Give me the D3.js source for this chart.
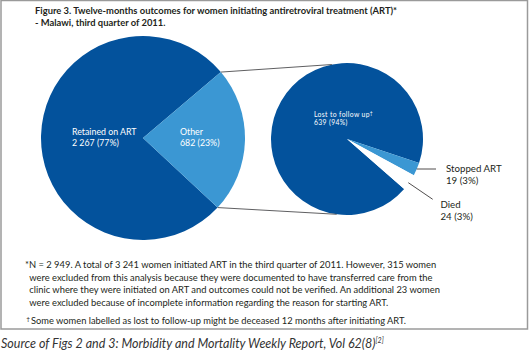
<!DOCTYPE html>
<html>
<head>
<meta charset="utf-8">
<script src="https://cdn.jsdelivr.net/npm/d3@7"></script>
<style>
body { margin: 0; background: #fff; }
svg { display: block; }
text { font-family: Lato, "Open Sans", sans-serif; }
</style>
</head>
<body>
<script>
// outcomes, all women (left pie)
var outerCats = ["Retained on ART", "Other"];
var outerVals = [2267, 682];
var outerPct = ["77%", "23%"];
// breakdown of "Other" (right pie)
var innerCats = ["Lost to follow up", "Stopped ART", "Died"];
var innerVals = [639, 19, 24];
var innerPct = ["94%", "3%", "3%"];

var titleLines = [
  "Figure 3. Twelve-months outcomes for women initiating antiretroviral treatment (ART)*",
  "- Malawi, third quarter of 2011."
];
var noteLines = [
  "*N = 2 949. A total of 3 241 women initiated ART in the third quarter of 2011. However, 315 women",
  "were excluded from this analysis because they were documented to have transferred care from the",
  "clinic where they were initiated on ART and outcomes could not be verified. An additional 23 women",
  "were excluded because of incomplete information regarding the reason for starting ART."
];
var daggerNote = "Some women labelled as lost to follow-up might be deceased 12 months after initiating ART.";

const w = 529, h = 352;
const dark = "#03529c", light = "#3b97d3";
const rad = d3.scaleLinear().domain([0, 360]).range([0, 2 * Math.PI]);
const fmt = v => d3.format(",")(v).replace(",", " ");

const svg = d3.select("body").append("svg")
  .attr("width", w)
  .attr("height", h);

// frame
svg.append("rect")
  .attr("x", 1).attr("y", 0.5)
  .attr("width", 526.5).attr("height", 328.5)
  .attr("fill", "none")
  .attr("stroke", "#9a9a9a")
  .attr("stroke-width", 1.5);

// title
svg.selectAll("text.title")
  .data(titleLines)
  .enter()
  .append("text")
  .attr("class", "title")
  .attr("x", 35)
  .attr("y", (d, i) => 14 + i * 12)
  .attr("font-size", 9.4)
  .attr("font-weight", "bold")
  .attr("fill", "#231f20")
  .text(d => d);

// left pie
const c1 = [143, 138], r1 = 102;
const pie1 = d3.pie().sort(null)
  .startAngle(rad(133)).endAngle(rad(133 + 360));
const arcs1 = pie1(outerVals);
const arc1 = d3.arc().innerRadius(0).outerRadius(r1);

const g1 = svg.append("g").attr("transform", `translate(${c1})`);
g1.selectAll("path")
  .data(arcs1)
  .enter()
  .append("path")
  .attr("d", arc1)
  .attr("fill", (d, i) => i == 0 ? dark : light);

// right pie
const c2 = [347, 139], r2 = 76;
const pie2 = d3.pie().sort(null)
  .startAngle(rad(131.2)).endAngle(rad(131.2 + 360));
const arcs2 = pie2(innerVals);
const arc2 = d3.arc().innerRadius(0).outerRadius(r2);

const g2 = svg.append("g").attr("transform", `translate(${c2})`);
g2.selectAll("path")
  .data(arcs2)
  .enter()
  .append("path")
  .attr("d", arc2)
  .attr("fill", (d, i) => ["#03529c", light, "#fff"][i]);

// connector lines between the "Other" slice and the right pie
function pt(c, r, a) {
  return [c[0] + r * Math.sin(a), c[1] - r * Math.cos(a)];
}
const other = arcs1[1];
const links = [
  [pt(c1, r1, other.startAngle), pt(c2, r2, rad(348.5))],
  [pt(c1, r1, other.endAngle), pt(c2, r2, rad(187.8))]
];
svg.selectAll("line.link")
  .data(links)
  .enter()
  .append("line")
  .attr("class", "link")
  .attr("x1", d => d[0][0]).attr("y1", d => d[0][1])
  .attr("x2", d => d[1][0]).attr("y2", d => d[1][1])
  .attr("stroke", "#4d4d4f")
  .attr("stroke-width", 0.9);

// labels in the left pie
const lab1 = [[72, 135], [180, 135]];
outerCats.forEach((cat, i) => {
  const t = svg.append("text")
    .attr("x", lab1[i][0]).attr("y", lab1[i][1])
    .attr("font-size", 8.8)
    .attr("fill", "#fff");
  t.append("tspan").text(cat);
  t.append("tspan").attr("x", lab1[i][0]).attr("dy", 11)
    .text(fmt(outerVals[i]) + " (" + outerPct[i] + ")");
});

// lost to follow up label
const lt = svg.append("text")
  .attr("x", 314).attr("y", 117)
  .attr("font-size", 6.8)
  .attr("letter-spacing", 0.35)
  .attr("fill", "#fff");
lt.append("tspan").text(innerCats[0]);
lt.append("tspan").attr("font-size", 5).attr("dy", -2.5).text("†");
lt.append("tspan").attr("x", 314).attr("dy", 10.8)
  .text(innerVals[0] + " (" + innerPct[0] + ")");

// outside labels with leaders
const lab2 = [null, { x: 446, y: 172, l: [[416.7, 169], [436, 169]] },
                    { x: 440.5, y: 207.5, l: [[408.3, 182.7], [432.7, 199.3]] }];
[1, 2].forEach(i => {
  const L = lab2[i];
  svg.append("line")
    .attr("x1", L.l[0][0]).attr("y1", L.l[0][1])
    .attr("x2", L.l[1][0]).attr("y2", L.l[1][1])
    .attr("stroke", "#231f20")
    .attr("stroke-width", 0.8);
  const t = svg.append("text")
    .attr("x", L.x).attr("y", L.y)
    .attr("font-size", 9.7)
    .attr("fill", "#231f20");
  t.append("tspan").text(i == 2 ? "Died" : innerCats[i]);
  t.append("tspan").attr("x", L.x).attr("dy", 12)
    .text(innerVals[i] + " (" + innerPct[i] + ")");
});

// footnotes
svg.selectAll("text.note")
  .data(noteLines)
  .enter()
  .append("text")
  .attr("class", "note")
  .attr("x", (d, i) => i == 0 ? 25 : 29.3)
  .attr("y", (d, i) => 268 + i * 12.6)
  .attr("font-size", 9.35)
  .attr("fill", "#231f20")
  .text(d => d);

const dt = svg.append("text")
  .attr("x", 26.3).attr("y", 324)
  .attr("font-size", 9.3)
  .attr("fill", "#231f20");
dt.append("tspan").attr("font-size", 6.5).attr("dy", -3).text("†");
dt.append("tspan").attr("dy", 3).attr("dx", 1).text(daggerNote);

// source line
const st = svg.append("text")
  .attr("x", 1).attr("y", 348)
  .attr("font-family", "'Liberation Serif', serif")
  .attr("font-style", "italic")
  .attr("font-size", 12.5)
  .attr("fill", "#333");
st.append("tspan").text("Source of Figs 2 and 3: Morbidity and Mortality Weekly Report, Vol 62(8)");
st.append("tspan").attr("font-size", 7).attr("dy", -5).text("[2]");
</script>
</body>
</html>
